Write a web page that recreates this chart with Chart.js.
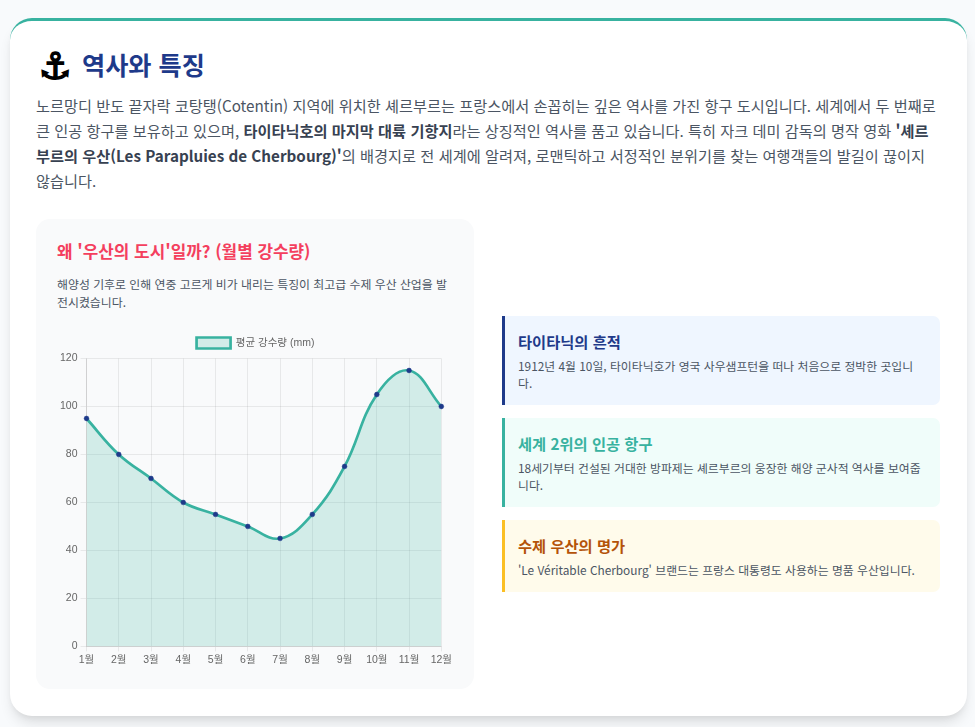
<!DOCTYPE html>
<html lang="ko">
<head>
<meta charset="utf-8">
<title>역사와 특징</title>
<script src="https://cdn.jsdelivr.net/npm/chart.js@4"></script>
<style>
  * { box-sizing: border-box; margin: 0; padding: 0; }
  html, body { width: 975px; height: 727px; overflow: hidden; background: #f8fafc; }
  body { font-family: "Noto Sans CJK KR", "Noto Sans", sans-serif; position: relative; }
  .card { position: absolute; left: 10px; top: 18px; width: 957px; height: 698px; background: #fff; border-top: 3px solid #38b2a0; border-radius: 22px; box-shadow: 0 9px 14px -3px rgba(0,0,0,.12), 0 3px 6px -2px rgba(0,0,0,.06); }
  .icon { position: absolute; left: 35px; top: 46px; width: 40px; font-size: 37px; line-height: 42px; text-align: center; color: #000; font-family: "DejaVu Sans"; -webkit-text-stroke: 1.5px #000; }
  h2 { position: absolute; left: 82px; top: 46px; font-size: 25.2px; line-height: 36px; font-weight: 700; color: #1e3a8a; white-space: nowrap; }
  .intro { position: absolute; left: 36px; top: 92.5px; font-size: 15.23px; line-height: 25.2px; color: #4b5563; white-space: nowrap; }
  .intro b { color: #374151; }
  .panel { position: absolute; left: 36px; top: 219px; width: 438px; height: 470px; background: #f9fafb; border-radius: 14px; }
  .panel h3 { position: absolute; left: 21px; top: 19px; font-size: 16.9px; line-height: 26px; font-weight: 700; color: #f43f5e; white-space: nowrap; }
  .panel p { position: absolute; left: 21px; top: 56px; font-size: 11.9px; line-height: 18px; color: #4b5563; white-space: nowrap; }
  .chart-box { position: absolute; left: 57px; top: 333px; width: 397px; height: 335px; }
  .note { position: absolute; left: 502px; width: 438px; border-left: 3px solid; border-radius: 0 7px 7px 0; padding: 13px 13px 0 13px; }
  .note h4 { font-size: 15.3px; line-height: 24px; font-weight: 700; white-space: nowrap; }
  .note div { font-size: 11.85px; line-height: 17px; color: #4b5563; white-space: nowrap; margin-top: 4px; }
  .n1 { top: 316px; height: 89px; background: #eff6ff; border-color: #1e3a8a; }
  .n1 h4 { color: #1e3a8a; }
  .n2 { top: 418px; height: 89px; background: #f0fdfa; border-color: #38b2a0; }
  .n2 h4 { color: #38b2a0; }
  .n3 { top: 520px; height: 72px; background: #fffbeb; border-color: #fbbf24; }
  .n3 h4 { color: #b45309; }
</style>
</head>
<body>
<div class="card"></div>
<div class="icon">⚓</div>
<h2>역사와 특징</h2>
<div class="intro">노르망디 반도 끝자락 코탕탱(Cotentin) 지역에 위치한 셰르부르는 프랑스에서 손꼽히는 깊은 역사를 가진 항구 도시입니다. 세계에서 두 번째로<br>큰 인공 항구를 보유하고 있으며, <b>타이타닉호의 마지막 대륙 기항지</b>라는 상징적인 역사를 품고 있습니다. 특히 자크 데미 감독의 명작 영화 <b>'셰르<br>부르의 우산(Les Parapluies de Cherbourg)'</b>의 배경지로 전 세계에 알려져, 로맨틱하고 서정적인 분위기를 찾는 여행객들의 발길이 끊이지<br>않습니다.</div>
<div class="panel">
  <h3>왜 '우산의 도시'일까? (월별 강수량)</h3>
  <p>해양성 기후로 인해 연중 고르게 비가 내리는 특징이 최고급 수제 우산 산업을 발<br>전시켰습니다.</p>
</div>
<div class="chart-box"><canvas id="rainChart"></canvas></div>
<div class="note n1"><h4>타이타닉의 흔적</h4><div>1912년 4월 10일, 타이타닉호가 영국 사우샘프턴을 떠나 처음으로 정박한 곳입니<br>다.</div></div>
<div class="note n2"><h4>세계 2위의 인공 항구</h4><div>18세기부터 건설된 거대한 방파제는 셰르부르의 웅장한 해양 군사적 역사를 보여줍<br>니다.</div></div>
<div class="note n3"><h4>수제 우산의 명가</h4><div>'Le Véritable Cherbourg' 브랜드는 프랑스 대통령도 사용하는 명품 우산입니다.</div></div>
<script>
const months = ['1월', '2월', '3월', '4월', '5월', '6월', '7월', '8월', '9월', '10월', '11월', '12월'];
const rainfall = [95, 80, 70, 60, 55, 50, 45, 55, 75, 105, 115, 100];
const seriesName = '평균 강수량 (mm)';

const teal = '#38b2a0';
const navy = '#1e3a8a';
const gridColor = 'rgba(0,0,0,0.07)';

Chart.defaults.font.family = "'Liberation Sans', 'Noto Sans CJK KR', sans-serif";
Chart.defaults.font.size = 10.5;
Chart.defaults.color = '#666';

new Chart(document.getElementById('rainChart'), {
  type: 'line',
  data: {
    labels: months,
    datasets: [{
      label: seriesName,
      data: rainfall,
      borderColor: teal,
      backgroundColor: 'rgba(56,178,160,0.2)',
      borderWidth: 2.7,
      fill: true,
      tension: 0.4,
      pointBackgroundColor: navy,
      pointBorderColor: navy,
      pointBorderWidth: 0.5,
      pointRadius: 2.4,
    }]
  },
  options: {
    responsive: true,
    maintainAspectRatio: false,
    animation: false,
    plugins: {
      legend: { position: 'top', labels: { boxWidth: 34, boxHeight: 11, padding: 4.5 } }
    },
    scales: {
      x: {
        grid: { color: gridColor, tickLength: 5 },
        ticks: { maxRotation: 0, autoSkip: false, padding: 2 }
      },
      y: {
        min: 0,
        max: 120,
        grid: { color: gridColor, tickLength: 6 },
        ticks: { stepSize: 20, padding: 3 }
      }
    }
  }
});
</script>
</body>
</html>
